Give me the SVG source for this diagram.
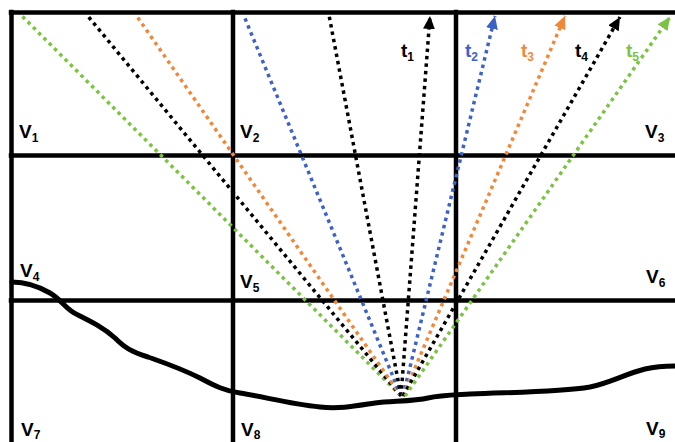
<svg xmlns="http://www.w3.org/2000/svg" width="675" height="442" viewBox="0 0 675 442">
<style>
.grid{stroke:#000;stroke-width:4.5;fill:none;stroke-linecap:square}
.ray{stroke-width:3.5;stroke-dasharray:3.5 4;fill:none}
.k{stroke:#000}.b{stroke:#3d62c6}.o{stroke:#f0883a}.g{stroke:#7cc243}
.lbl{font-family:"Liberation Sans",Arial,sans-serif;font-weight:bold;font-size:19px}
.sub{font-size:12px}
.curve{stroke:#000;stroke-width:5;fill:none;stroke-linecap:round;stroke-linejoin:round}
</style>
<defs>
<marker id="ak" markerUnits="userSpaceOnUse" markerWidth="14" markerHeight="12" refX="13" refY="6" orient="auto"><path d="M0,0 L13,6 L0,12 z" fill="#000"/></marker>
<marker id="ab" markerUnits="userSpaceOnUse" markerWidth="14" markerHeight="12" refX="13" refY="6" orient="auto"><path d="M0,0 L13,6 L0,12 z" fill="#3d62c6"/></marker>
<marker id="ao" markerUnits="userSpaceOnUse" markerWidth="14" markerHeight="12" refX="13" refY="6" orient="auto"><path d="M0,0 L13,6 L0,12 z" fill="#f0883a"/></marker>
<marker id="ag" markerUnits="userSpaceOnUse" markerWidth="14" markerHeight="12" refX="13" refY="6" orient="auto"><path d="M0,0 L13,6 L0,12 z" fill="#7cc243"/></marker>
</defs>
<rect width="675" height="442" fill="#fff"/>
<g id="grid">
<line class="grid" x1="11" y1="12.5" x2="677" y2="12.5"/>
<line class="grid" x1="11.5" y1="12" x2="11.5" y2="445"/>
<line class="grid" x1="233" y1="12" x2="233" y2="445"/>
<line class="grid" x1="456" y1="12" x2="456" y2="445"/>
<line class="grid" x1="11" y1="155.5" x2="677" y2="155.5"/>
<line class="grid" x1="11" y1="300.5" x2="677" y2="300.5"/>
</g>
<g id="terrain">
<path class="curve" d="M12,282 C25,282 38,286 50,293 C62,300 66,310 78,315 C92,322 104,328 115,338 C125,348 132,352 148,357 C165,363 180,368 200,378 C215,386 225,391 240,393 C265,397 290,404 320,407 C340,409 355,406 375,403 C395,401 415,401 428,398 C440,395 450,395 470,394 C520,392 560,392 590,387 C610,383 625,374 645,369 C658,366 668,366 675,366"/>
</g>
<g id="connectors">
<line class="ray g" x1="401" y1="396" x2="20" y2="14"/>
<line class="ray k" x1="401" y1="396" x2="87" y2="15"/>
<line class="ray o" x1="401" y1="396" x2="136" y2="15"/>
<line class="ray b" x1="401" y1="396" x2="244" y2="16"/>
<line class="ray k" x1="401" y1="396" x2="329" y2="15"/>
<line class="ray k" x1="401" y1="396" x2="430" y2="16" marker-end="url(#ak)"/>
<line class="ray b" x1="403" y1="396" x2="495" y2="16" marker-end="url(#ab)"/>
<line class="ray o" x1="403" y1="396" x2="565" y2="16" marker-end="url(#ao)"/>
<line class="ray k" x1="403" y1="396" x2="620" y2="17" marker-end="url(#ak)"/>
<line class="ray g" x1="405" y1="396" x2="670" y2="17" marker-end="url(#ag)"/>
</g>
<g id="labels" class="lbl">
<text x="19" y="138" fill="#000">V<tspan class="sub" dy="4">1</tspan></text>
<text x="240" y="138" fill="#000">V<tspan class="sub" dy="4">2</tspan></text>
<text x="645" y="138" fill="#000">V<tspan class="sub" dy="4">3</tspan></text>
<text x="20" y="277" fill="#000">V<tspan class="sub" dy="4">4</tspan></text>
<text x="240" y="288" fill="#000">V<tspan class="sub" dy="4">5</tspan></text>
<text x="646" y="283" fill="#000">V<tspan class="sub" dy="4">6</tspan></text>
<text x="21" y="436" fill="#000">V<tspan class="sub" dy="3">7</tspan></text>
<text x="241" y="436" fill="#000">V<tspan class="sub" dy="3">8</tspan></text>
<text x="646" y="435" fill="#000">V<tspan class="sub" dy="3">9</tspan></text>
<text x="401" y="57" fill="#000">t<tspan class="sub" dy="4">1</tspan></text>
<text x="465" y="57" fill="#3d62c6">t<tspan class="sub" dy="4">2</tspan></text>
<text x="521" y="57" fill="#f0883a">t<tspan class="sub" dy="4">3</tspan></text>
<text x="575" y="57" fill="#000">t<tspan class="sub" dy="4">4</tspan></text>
<text x="626" y="57" fill="#7cc243">t<tspan class="sub" dy="4">5</tspan></text>
</g>
</svg>
